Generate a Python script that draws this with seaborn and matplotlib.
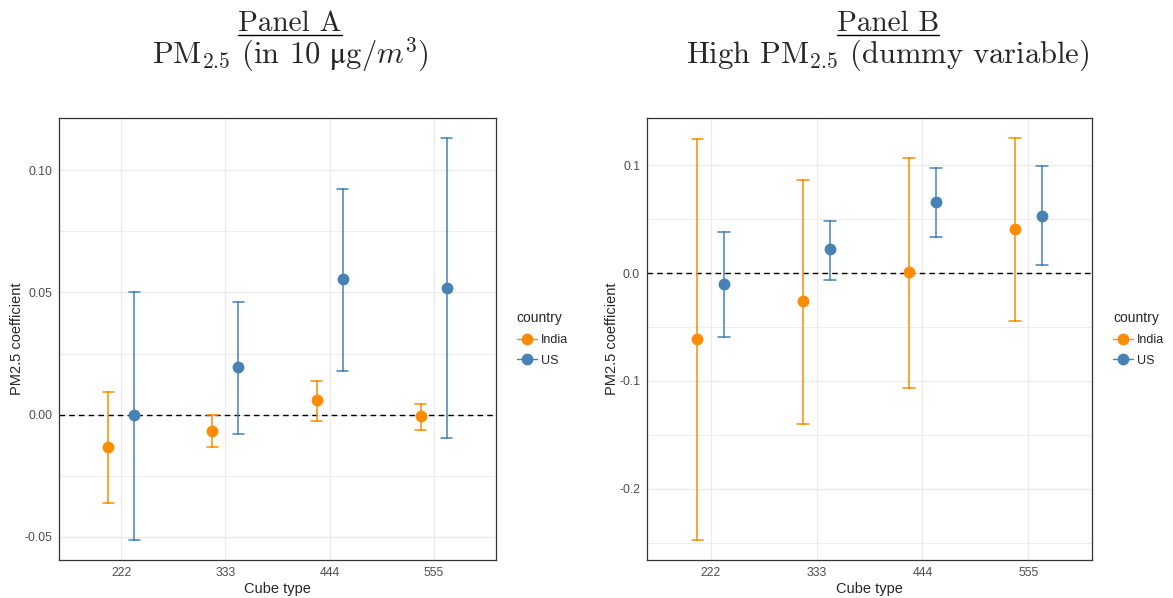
import matplotlib
matplotlib.use("Agg")
import matplotlib.pyplot as plt
from matplotlib.lines import Line2D
from matplotlib.ticker import AutoMinorLocator, FuncFormatter
import pandas as pd
import seaborn as sns


# values
cube_types = ["222", "333", "444", "555"]
countries = ["India", "US"]

# Panel A: PM2.5 in 10 ug/m3
a_india_est = [-0.0134, -0.0067, 0.0061, -0.0005]
a_india_lo = [-0.0361, -0.0131, -0.0025, -0.0064]
a_india_hi = [0.0094, 0.0000, 0.0139, 0.0044]
a_us_est = [0.0000, 0.0193, 0.0553, 0.0520]
a_us_lo = [-0.0512, -0.0079, 0.0179, -0.0096]
a_us_hi = [0.0503, 0.0460, 0.0921, 0.1131]

# Panel B: high PM2.5 dummy
b_india_est = [-0.0616, -0.0263, 0.0012, 0.0409]
b_india_lo = [-0.2474, -0.1402, -0.1062, -0.0440]
b_india_hi = [0.1241, 0.0864, 0.1071, 0.1251]
b_us_est = [-0.0105, 0.0220, 0.0659, 0.0533]
b_us_lo = [-0.0594, -0.0065, 0.0334, 0.0071]
b_us_hi = [0.0378, 0.0486, 0.0970, 0.0988]

a_yticks = [-0.05, 0.00, 0.05, 0.10]
b_yticks = [-0.2, -0.1, 0.0, 0.1]

PALETTE = {"India": "#FF8C00", "US": "#4682B4"}
W, H = 1173, 598


def long_frame(est, lo, hi):
    # three rows per group: the median is the estimate, min/max are the CI
    rows = []
    for country, e, l, h in zip(countries, est, lo, hi):
        for cube, ee, ll, hh in zip(cube_types, e, l, h):
            for v in (ll, ee, hh):
                rows.append({"cube": cube, "country": country, "coef": v})
    return pd.DataFrame(rows)


def draw_panel(ax, df, yticks, fmt):
    sns.pointplot(
        data=df, x="cube", y="coef", hue="country",
        order=cube_types, hue_order=countries, palette=PALETTE,
        estimator="median", errorbar=lambda v: (v.min(), v.max()),
        dodge=0.25, linestyle="none", markers="o", markersize=8.5,
        markeredgewidth=0, capsize=0.11, err_kws={"linewidth": 1.1},
        legend=False, ax=ax,
    )
    ax.axhline(0, color="black", lw=1.0, ls=(0, (4, 3)), zorder=1)

    lo, hi = df["coef"].min(), df["coef"].max()
    pad = (hi - lo) * 0.05
    ax.set_ylim(lo - pad, hi + pad)
    ax.set_xlim(-0.6, len(cube_types) - 0.4)
    ax.set_yticks(yticks)
    ax.yaxis.set_major_formatter(FuncFormatter(lambda v, p: format(v, fmt)))
    ax.yaxis.set_minor_locator(AutoMinorLocator(2))

    ax.grid(which="major", color="#EBEBEB", lw=0.9, zorder=0)
    ax.grid(which="minor", axis="y", color="#EBEBEB", lw=0.6, zorder=0)
    ax.set_axisbelow(True)
    for s in ax.spines.values():
        s.set_visible(True)
        s.set_color("#333333")
        s.set_linewidth(0.9)
    ax.tick_params(which="major", length=3, width=0.8, color="#333333",
                   labelcolor="#4D4D4D", labelsize=8.8, pad=2)
    ax.tick_params(which="minor", length=0)
    ax.set_xlabel("Cube type", fontsize=10.5, labelpad=2)
    ax.set_ylabel("PM2.5 coefficient", fontsize=10.5, labelpad=0)

    handles = [
        Line2D([0], [0], color=PALETTE[c], marker="o", markersize=8.5,
               markeredgewidth=0, lw=1.0)
        for c in countries
    ]
    ax.legend(handles, countries, title="country", loc="center left",
              bbox_to_anchor=(1.047, 0.5), frameon=False, fontsize=9,
              title_fontsize=10, alignment="left", handlelength=1.6,
              handletextpad=0.35, borderpad=0, borderaxespad=0,
              labelspacing=0.7)


def title(fig, xc, top, bottom):
    t = fig.text(xc, 1 - 31 / H, top, ha="center", va="baseline",
                 fontsize=21, family=["cmr10", "DejaVu Serif"])
    fig.text(xc, 1 - 63 / H, bottom, ha="center", va="baseline",
             fontsize=22, family=["cmr10", "DejaVu Serif"])
    fig.canvas.draw()
    bb = t.get_window_extent().transformed(fig.transFigure.inverted())
    yl = 1 - 35 / H
    fig.add_artist(Line2D([bb.x0, bb.x1], [yl, yl], color="black", lw=1.0,
                          transform=fig.transFigure))


def main():
    sns.set_style("white")
    plt.rcParams["font.family"] = ["Liberation Sans", "DejaVu Sans"]
    plt.rcParams["mathtext.fontset"] = "cm"

    fig = plt.figure(figsize=(W / 100, H / 100), dpi=100)
    ax_a = fig.add_axes([59 / W, 1 - 560 / H, 437 / W, 442 / H])
    ax_b = fig.add_axes([647 / W, 1 - 560 / H, 445 / W, 442 / H])

    draw_panel(ax_a, long_frame([a_india_est, a_us_est],
                                [a_india_lo, a_us_lo],
                                [a_india_hi, a_us_hi]), a_yticks, ".2f")
    draw_panel(ax_b, long_frame([b_india_est, b_us_est],
                                [b_india_lo, b_us_lo],
                                [b_india_hi, b_us_hi]), b_yticks, ".1f")

    title(fig, 290 / W, "Panel A", r"PM$_{2.5}$ (in 10 $\mathrm{μ}$g/$m^3$)")
    title(fig, 888 / W, "Panel B", r"High PM$_{2.5}$ (dummy variable)")

    fig.savefig("out.png", dpi=100)


if __name__ == "__main__":
    main()
